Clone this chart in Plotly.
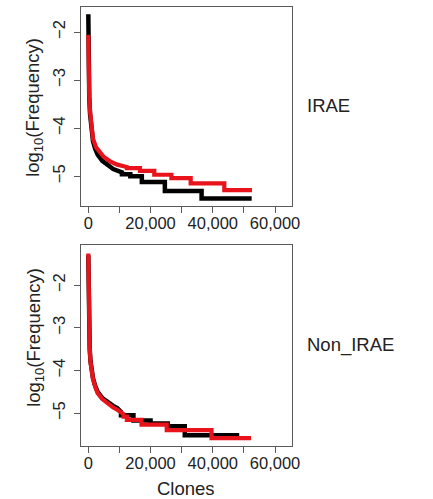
import plotly.graph_objects as go

# Clone rank-frequency curves: smooth head points, then plateau steps.
# IRAE panel
irae_black_head_rank = [0, 20, 70, 150, 300, 550, 900, 1500, 2200, 3000, 4500, 6100, 8000, 10800]
irae_black_head_logf = [-1.63, -2.1, -2.6, -2.95, -3.35, -3.7, -4.0, -4.27, -4.43, -4.55, -4.68, -4.77, -4.85, -4.92]
irae_black_step_start = [10800, 13500, 17200, 24600, 36400]
irae_black_step_logf = [-4.96, -5.0, -5.12, -5.31, -5.465]
irae_black_last_rank = 52500

irae_red_head_rank = [0, 60, 150, 300, 550, 900, 1500, 2500, 3600, 5000, 7000, 9300, 12400]
irae_red_head_logf = [-2.06, -2.5, -2.9, -3.3, -3.65, -3.95, -4.22, -4.4, -4.5, -4.6, -4.69, -4.76, -4.81]
irae_red_step_start = [12400, 16600, 21200, 26700, 32900, 43700]
irae_red_step_logf = [-4.83, -4.89, -4.97, -5.04, -5.15, -5.29]
irae_red_last_rank = 52600

# Non_IRAE panel
non_black_head_rank = [0, 40, 120, 250, 450, 700, 1000, 1500, 2200, 3000, 4500, 6100, 8000, 9300, 10500]
non_black_head_logf = [-1.3, -2.0, -2.6, -3.1, -3.5, -3.78, -3.98, -4.18, -4.36, -4.5, -4.65, -4.74, -4.83, -4.88, -4.97]
non_black_step_start = [10500, 14500, 20000, 25500, 31000]
non_black_step_logf = [-5.05, -5.17, -5.24, -5.31, -5.52]
non_black_last_rank = 48500

non_red_head_rank = [0, 40, 120, 250, 450, 700, 1000, 1500, 2200, 3000, 4500, 6100, 8000, 9300, 11300]
non_red_head_logf = [-1.26, -2.0, -2.6, -3.1, -3.5, -3.8, -4.0, -4.2, -4.38, -4.53, -4.67, -4.77, -4.87, -4.92, -5.02]
non_red_step_start = [11300, 12400, 17100, 25200, 39600]
non_red_step_logf = [-5.08, -5.16, -5.27, -5.40, -5.585]
non_red_last_rank = 52300

# tick marks every 10,000; only every other one carries a label
x_tick_vals = [0, 10000, 20000, 30000, 40000, 50000, 60000]
x_tick_text = ["0", "", "20,000", "", "40,000", "", "60,000"]
y_tick_vals = [-2, -3, -4, -5]

BLACK = "#000000"
RED = "#e8131b"
FRAME = "#5a5a5a"
FONT = "Liberation Sans, Arial, sans-serif"


def curve(head_r, head_f, step_start, step_logf, last_rank):
    xs, ys = list(head_r), list(head_f)
    ends = list(step_start[1:]) + [last_rank]
    for s, e, lv in zip(step_start, ends, step_logf):
        xs += [s, e]
        ys += [lv, lv]
    return xs, ys


fig = go.Figure()

panels = [
    ("x", "y",
     (irae_black_head_rank, irae_black_head_logf, irae_black_step_start, irae_black_step_logf, irae_black_last_rank),
     (irae_red_head_rank, irae_red_head_logf, irae_red_step_start, irae_red_step_logf, irae_red_last_rank)),
    ("x2", "y2",
     (non_black_head_rank, non_black_head_logf, non_black_step_start, non_black_step_logf, non_black_last_rank),
     (non_red_head_rank, non_red_head_logf, non_red_step_start, non_red_step_logf, non_red_last_rank)),
]

for xa, ya, black, red in panels:
    bx, by = curve(*black)
    rx, ry = curve(*red)
    fig.add_trace(go.Scatter(x=bx, y=by, mode="lines", xaxis=xa, yaxis=ya,
                             line=dict(color=BLACK, width=4.5),
                             showlegend=False, hoverinfo="skip"))
    fig.add_trace(go.Scatter(x=rx, y=ry, mode="lines", xaxis=xa, yaxis=ya,
                             line=dict(color=RED, width=4.2),
                             showlegend=False, hoverinfo="skip"))

W, H = 433, 499
x_dom = [83 / W, 297 / W]
top_dom = [1 - 206 / H, 1 - 7 / H]
bot_dom = [1 - 446 / H, 1 - 245 / H]

axis_common = dict(showline=True, mirror=True, linecolor=FRAME, linewidth=1.2,
                   ticks="outside", ticklen=6, tickcolor=FRAME, tickwidth=1.2,
                   showgrid=False, zeroline=False,
                   tickfont=dict(family=FONT, size=16.5, color="#222222"))

xaxis_cfg = dict(axis_common, range=[-2200, 65300], tickvals=x_tick_vals,
                 ticktext=x_tick_text, domain=x_dom, ticklabelstandoff=-4)
fig.update_layout(
    xaxis=dict(xaxis_cfg, anchor="y"),
    xaxis2=dict(xaxis_cfg, anchor="y2"),
    yaxis=dict(axis_common, range=[-5.62, -1.48], tickvals=y_tick_vals,
               tickangle=-90, domain=top_dom, anchor="x", ticklabelstandoff=3),
    yaxis2=dict(axis_common, range=[-5.77, -1.06], tickvals=y_tick_vals,
                tickangle=-90, domain=bot_dom, anchor="x2", ticklabelstandoff=3),
    width=W, height=H,
    margin=dict(l=0, r=0, t=0, b=0),
    paper_bgcolor="white", plot_bgcolor="white",
    font=dict(family=FONT, color="#222222"),
)

title_font = dict(family=FONT, size=18.5, color="#222222")
ytitle = "log<sub>10</sub>(Frequency)"
fig.add_annotation(text=ytitle, x=35 / W, y=1 - 107.5 / H, xref="paper", yref="paper",
                   textangle=-90, showarrow=False, font=title_font,
                   xanchor="center", yanchor="middle")
fig.add_annotation(text=ytitle, x=35 / W, y=1 - 337.5 / H, xref="paper", yref="paper",
                   textangle=-90, showarrow=False, font=title_font,
                   xanchor="center", yanchor="middle")
fig.add_annotation(text="IRAE", x=334.7 / W, y=1 - 105 / H, xref="paper", yref="paper",
                   showarrow=False, font=title_font, xanchor="center", yanchor="middle")
fig.add_annotation(text="Non_IRAE", x=356.7 / W, y=1 - 345 / H, xref="paper", yref="paper",
                   showarrow=False, font=title_font, xanchor="center", yanchor="middle")
fig.add_annotation(text="Clones", x=190 / W, y=1 - 488.3 / H, xref="paper", yref="paper",
                   showarrow=False, font=title_font, xanchor="center", yanchor="middle")

fig.write_html("out.html")
